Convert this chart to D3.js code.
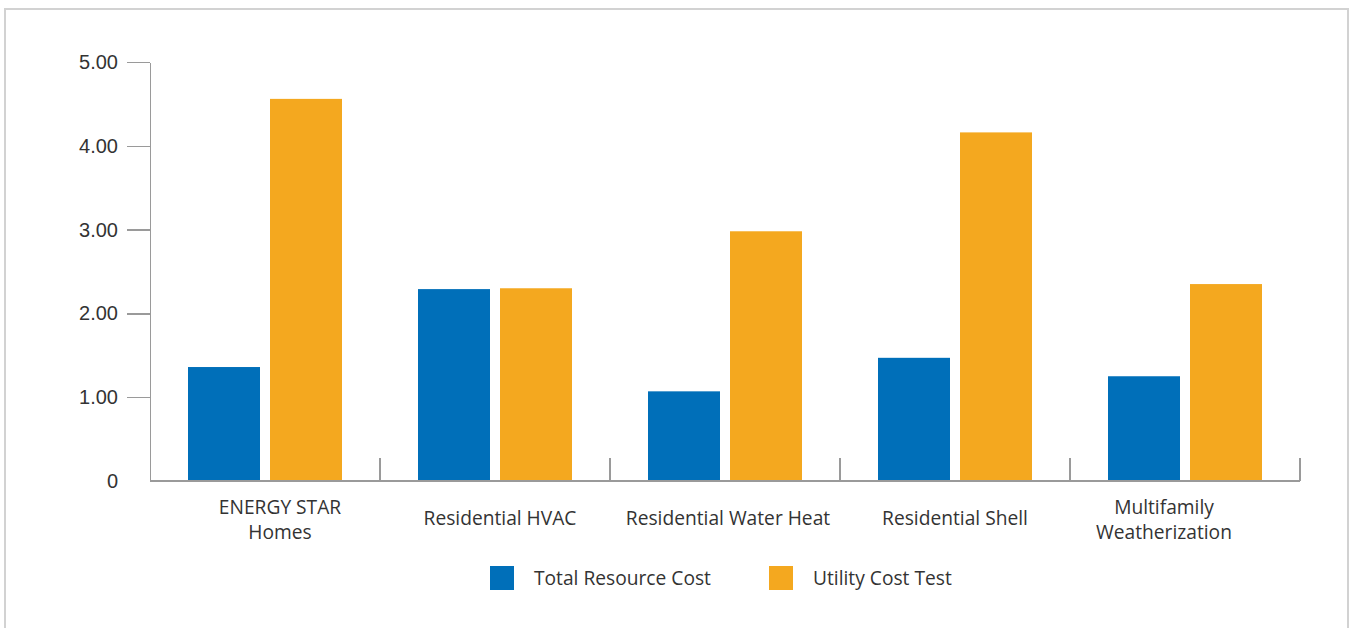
<!DOCTYPE html>
<style>
body { margin: 0; background: #fff; font-family: 'Open Sans', sans-serif; }
text { fill: #333; }
.frame { fill: none; stroke: #d2d2d2; stroke-width: 2px; }
.axis path, .axis line { stroke: #9a9a9a; stroke-width: 1.5px; shape-rendering: crispEdges; }
.axis text { font-size: 20px; fill: #333; }
.sep { stroke: #9a9a9a; stroke-width: 1.5px; shape-rendering: crispEdges; }
.cat-label { font-size: 19.2px; text-anchor: middle; }
.legend text { font-size: 19.2px; }
</style>
<svg width="1351" height="628"></svg>
<script src="https://d3js.org/d3.v7.min.js"></script>
<script>
var categories = [["ENERGY STAR", "Homes"], ["Residential HVAC"], ["Residential Water Heat"], ["Residential Shell"], ["Multifamily", "Weatherization"]];
var labelShift = [15, 5, 3, 0, -21];
var seriesNames = ["Total Resource Cost", "Utility Cost Test"];
var totalResourceCost = [1.36, 2.29, 1.07, 1.47, 1.25];
var utilityCostTest = [4.56, 2.30, 2.98, 4.16, 2.35];
var yTicks = [0, 1, 2, 3, 4, 5];
var yTickLabels = ["0", "1.00", "2.00", "3.00", "4.00", "5.00"];
var colors = ["#006fb9", "#f4a81f"];

var svg = d3.select("svg");

// outer frame (bottom edge runs off the page)
svg.append("rect").attr("class", "frame")
    .attr("x", 5).attr("y", 9).attr("width", 1343).attr("height", 640);

var catKeys = categories.map(function(d) { return d.join(" "); });

var x0 = d3.scaleBand().domain(catKeys).range([150, 1300]).paddingInner(0);
var x1 = d3.scaleBand().domain(seriesNames).range([38, 192]).paddingInner(10 / 82);
var y = d3.scaleLinear().domain([0, 5]).range([481, 62]);
var z = d3.scaleOrdinal().domain(seriesNames).range(colors);

var data = catKeys.map(function(k, i) {
  return { key: k, values: [
    { type: seriesNames[0], value: totalResourceCost[i] },
    { type: seriesNames[1], value: utilityCostTest[i] }
  ]};
});

// y axis
var yAxis = svg.append("g")
    .attr("class", "axis")
    .attr("transform", "translate(150,0)")
    .call(d3.axisLeft(y)
      .tickValues(yTicks)
      .tickSize(23)
      .tickSizeOuter(0)
      .tickPadding(9)
      .tickFormat(function(d, i) { return yTickLabels[i]; }));
yAxis.selectAll(".tick").filter(function(d) { return d === 0; }).select("line").remove();

// bars
var barG = svg.append("g").selectAll("g")
    .data(data)
  .enter().append("g")
    .attr("transform", function(d) { return "translate(" + x0(d.key) + ",0)"; });

barG.selectAll("rect")
    .data(function(d) { return d.values; })
  .enter().append("rect")
    .attr("x", function(d) { return x1(d.type); })
    .attr("y", function(d) { return y(d.value); })
    .attr("width", x1.bandwidth())
    .attr("height", function(d) { return y(0) - y(d.value); })
    .attr("fill", function(d) { return z(d.type); });

// x axis baseline
svg.append("line").attr("class", "sep")
    .attr("x1", 150).attr("x2", 1300)
    .attr("y1", y(0)).attr("y2", y(0));

// category separators
svg.append("g").selectAll("line")
    .data(catKeys)
  .enter().append("line")
    .attr("class", "sep")
    .attr("x1", function(d) { return x0(d) + x0.bandwidth(); })
    .attr("x2", function(d) { return x0(d) + x0.bandwidth(); })
    .attr("y1", y(0))
    .attr("y2", y(0) - 23);

// category labels
var labels = svg.append("g").selectAll("text")
    .data(categories)
  .enter().append("text")
    .attr("class", "cat-label")
    .attr("transform", function(d, i) { return "translate(" + (x0(catKeys[i]) + x0.bandwidth() / 2 + labelShift[i]) + ",0)"; });

labels.selectAll("tspan")
    .data(function(d) { return d; })
  .enter().append("tspan")
    .attr("x", 0)
    .attr("y", function(d, i, nodes) {
      return nodes.length === 1 ? 525 : 514 + i * 25;
    })
    .text(function(d) { return d; });

// legend
var legend = svg.append("g").attr("class", "legend");
var legG = legend.selectAll("g")
    .data(seriesNames)
  .enter().append("g")
    .attr("transform", function(d, i) { return "translate(" + (490 + i * 279) + ",566)"; });

legG.append("rect")
    .attr("width", 24)
    .attr("height", 24)
    .attr("fill", z);

legG.append("text")
    .attr("x", 44)
    .attr("y", 12)
    .attr("dy", "0.35em")
    .text(function(d) { return d; });
</script>
